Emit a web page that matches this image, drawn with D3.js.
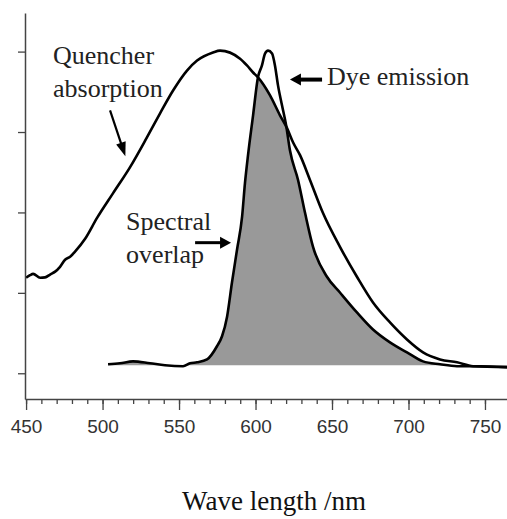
<!DOCTYPE html>
<html lang='en'>
	<head>
		<title>Spectral overlap</title>
		<script type='text/javascript' src='https://cdn.jsdelivr.net/npm/d3@7/dist/d3.min.js'></script>
		<style>
			body { margin: 0; background: #fff; }
		</style>
	</head>
	<body>
		<script type='text/javascript'>
			// quencher absorption, [wavelength nm, relative intensity]
			var absorption = [
				[450,0.297],[452.6,0.305],[454.6,0.309],[459.2,0.297],[462.4,0.298],[465.7,0.307],[469,0.316],
				[472.2,0.331],[475.5,0.353],[478.8,0.362],[482,0.378],[488.6,0.418],[496.4,0.483],[506.9,0.56],
				[518,0.641],[529.1,0.734],[537.6,0.808],[546.1,0.879],[555.2,0.941],[561.8,0.972],[572.2,0.997],
				[576.8,1.003],[589.9,0.978],[594.4,0.957],[598.4,0.935],[601.6,0.92],[609.5,0.864],[616,0.802],
				[620.6,0.762],[624.5,0.718],[629.1,0.678],[635.6,0.601],[644.1,0.498],[655.2,0.393],[666.3,0.3],
				[676.8,0.22],[687.9,0.158],[699,0.105],[709.5,0.065],[720.6,0.043],[731.7,0.034],[742.2,0.022],
				[764.4,0.019]
			];
			// dye emission
			var emission = [
				[503.6,0.028],[511.4,0.031],[519.9,0.037],[531,0.031],[540.8,0.025],[552.6,0.022],[557.2,0.031],
				[561.8,0.034],[568.3,0.043],[574.8,0.084],[578.1,0.115],[581.4,0.176],[584.6,0.282],[587.9,0.384],
				[591.2,0.486],[593.1,0.591],[595.1,0.678],[598.4,0.802],[601.6,0.92],[604.2,0.957],[606.2,0.994],
				[608.2,1.003],[610.8,0.994],[612.7,0.957],[614.7,0.895],[617.3,0.833],[620,0.771],[622.5,0.693],
				[627.8,0.601],[632.4,0.498],[637.6,0.393],[646.7,0.3],[655.2,0.251],[666.3,0.189],[676.8,0.136],
				[687.9,0.096],[699,0.065],[709.5,0.037],[720.6,0.028],[731.7,0.022],[746.7,0.022],[764.4,0.019]
			];
			var baseline = 0.025;
			var y_ticks = [0, 0.25, 0.5, 0.75, 1];
			var x_major = [450, 500, 550, 600, 650, 700, 750];
			var x_minor = d3.range(450, 751, 10);
			var x_title = 'Wave length /nm';

			var width = 507, height = 519;
			var svg = d3.select('body').append('svg').attr('width', width).attr('height', height)

			var x = d3.scaleLinear().domain([449.3, 764.4]).range([25, 507])
			var y = d3.scaleLinear().domain([-0.08, 1.12]).range([399, 13])

			// overlap = min of the two curves, on the union of sample points
			function interp(arr, w) {
				if (w <= arr[0][0]) return arr[0][1];
				for (var i = 1; i < arr.length; i++)
					if (w <= arr[i][0]) {
						var t = (w - arr[i-1][0]) / (arr[i][0] - arr[i-1][0]);
						return arr[i-1][1] + t * (arr[i][1] - arr[i-1][1]);
					}
				return arr[arr.length-1][1];
			}
			var grid = absorption.map(d => d[0]).concat(emission.map(d => d[0]))
				.filter(w => w >= emission[0][0]).sort((a, b) => a - b);
			var overlap = grid.map(w => [w, Math.max(baseline, Math.min(interp(absorption, w), interp(emission, w)))]);

			svg.append('path').datum(overlap)
				.attr('d', d3.area().x(d => x(d[0])).y0(y(baseline)).y1(d => y(d[1])).curve(d3.curveMonotoneX))
				.attr('fill', '#999')

			var line = d3.line().x(d => x(d[0])).y(d => y(d[1])).curve(d3.curveMonotoneX)
			svg.append('path').datum(absorption).attr('d', line)
				.attr('fill', 'none').attr('stroke', '#000').attr('stroke-width', 2.6).attr('stroke-linejoin', 'round')
			svg.append('path').datum(emission).attr('d', line)
				.attr('fill', 'none').attr('stroke', '#000').attr('stroke-width', 2.6).attr('stroke-linejoin', 'round')

			// axes
			var gy = svg.append('g').attr('transform', 'translate(25,0)')
				.call(d3.axisLeft(y).tickValues(y_ticks).tickFormat('').tickSize(7).tickSizeOuter(0))
			var gx1 = svg.append('g').attr('transform', 'translate(0,399)')
				.call(d3.axisBottom(x).tickValues(x_minor).tickFormat('').tickSize(5).tickSizeOuter(0))
			var gx2 = svg.append('g').attr('transform', 'translate(0,399)')
				.call(d3.axisBottom(x).tickValues(x_major).tickFormat(d3.format('d')).tickSize(11).tickSizeOuter(0).tickPadding(10))
			gx2.select('.domain').remove()
			svg.selectAll('.domain').attr('stroke', '#444').attr('stroke-width', 1.5)
			svg.selectAll('.tick line').attr('stroke', '#444').attr('stroke-width', 1.3)
			gx2.selectAll('text').attr('font-family', 'Arial, "Liberation Sans", sans-serif')
				.attr('font-size', 19).attr('fill', '#333')

			svg.append('text').attr('x', 274).attr('y', 510).attr('text-anchor', 'middle')
				.attr('font-family', '"Times New Roman", "Liberation Serif", serif').attr('font-size', 27)
				.attr('fill', '#111').text(x_title)

			// annotations (placed in data coordinates)
			var serif = '"Times New Roman", "Liberation Serif", serif';
			function label(txt, w, v) {
				svg.append('text').attr('x', x(w)).attr('y', y(v)).attr('font-family', serif)
					.attr('font-size', 26).attr('fill', '#222').text(txt)
			}
			function arrow(w0, v0, w1, v1, sw, hl, hw) {
				var x0 = x(w0), y0 = y(v0), x1 = x(w1), y1 = y(v1);
				var dx = x1 - x0, dy = y1 - y0, len = Math.sqrt(dx*dx + dy*dy);
				var ux = dx / len, uy = dy / len;
				var bx = x1 - ux * hl, by = y1 - uy * hl;
				svg.append('line').attr('x1', x0).attr('y1', y0).attr('x2', bx + ux).attr('y2', by + uy)
					.attr('stroke', '#000').attr('stroke-width', sw)
				svg.append('polygon').attr('fill', '#000')
					.attr('points', [[x1, y1], [bx - uy * hw / 2, by + ux * hw / 2], [bx + uy * hw / 2, by - ux * hw / 2]].join(' '))
			}
			label('Quencher', 467.6, 0.963)
			label('absorption', 467.6, 0.858)
			arrow(504.9, 0.817, 514.9, 0.675, 2.2, 14, 10)
			label('Dye emission', 646.7, 0.895)
			arrow(643.5, 0.913, 622.5, 0.913, 4, 11, 12)
			label('Spectral', 515.4, 0.446)
			label('overlap', 515.4, 0.344)
			arrow(560.5, 0.406, 584, 0.406, 3, 11, 12)
		</script>
	</body>
</html>
